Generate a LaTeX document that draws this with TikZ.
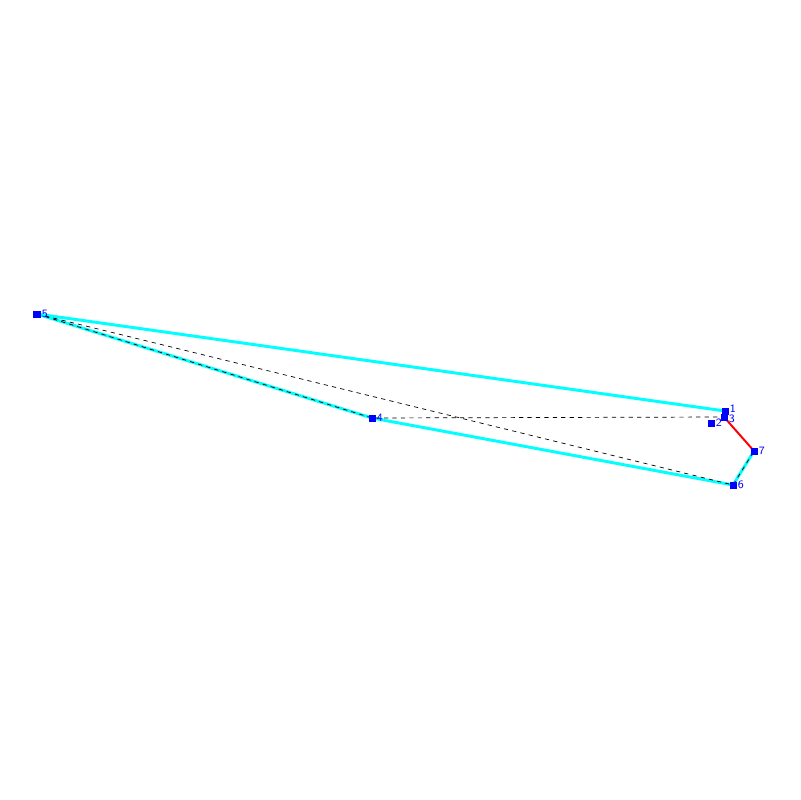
\documentclass[tikz,border=0pt]{standalone}
\usepackage{xcolor}
\usetikzlibrary{positioning}
\definecolor{hullcyan}{RGB}{0,255,255}

\begin{document}
\begin{tikzpicture}[x=0.025cm, y=-0.025cm,
    pt/.style={fill=blue, draw=none, minimum size=1.75mm, inner sep=0pt},
    lbl/.style={right=0.2mm of #1, inner sep=0pt, text=blue, font=\sffamily\footnotesize},
    hull/.style={hullcyan, line width=2.1pt},
    aux/.style={black, dashed, line width=0.5pt},
    cut/.style={red, line width=1.4pt}]
    \useasboundingbox (0,0) rectangle (800,800);
    % points
    \coordinate (p1) at (725,411);
    \coordinate (p2) at (711,423);
    \coordinate (p3) at (724,417);
    \coordinate (p4) at (372,418);
    \coordinate (p5) at (37,314);
    \coordinate (p6) at (733,485);
    \coordinate (p7) at (754,451);
    % edges
    \draw[hull] (p5) -- (p1);
    \draw[hull] (p5) -- (p4) -- (p6) -- (p7);
    \draw[aux] (p5) -- (p4) -- (p3);
    \draw[aux] (p5) -- (p6) -- (p7);
    \draw[cut] (p3) -- (p7);
    % markers
    \foreach \i in {1,...,7} {
        \node[pt] (n\i) at (p\i) {};
    }
    \foreach \i in {2,4,5,6,7} {
        \node[lbl=n\i] {\i};
    }
    \node[lbl=n1, yshift=0.5mm] {1};
    \node[lbl=n3, yshift=-0.5mm] {3};
\end{tikzpicture}
\end{document}
